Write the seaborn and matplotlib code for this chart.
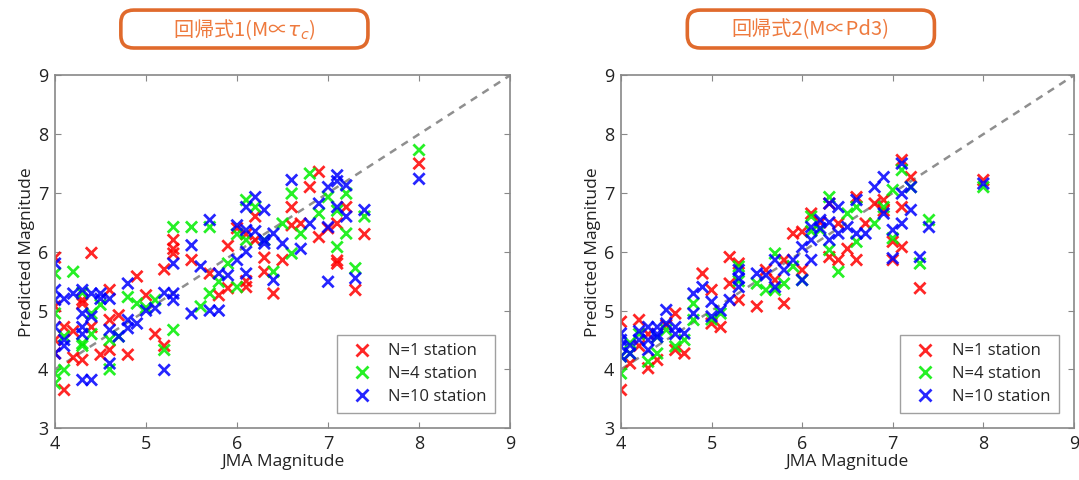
import matplotlib
matplotlib.use("Agg")
from matplotlib import pyplot as plt
from matplotlib.patches import FancyBboxPatch
import seaborn as sns
import pandas as pd

# ---- panel 1 : M ~ tau_c ----
r1_x = [4.0, 4.0, 4.0, 4.0, 4.1, 4.4, 4.3, 4.6, 4.9, 5.0, 5.2, 5.3, 5.3, 5.5, 5.9, 5.1, 5.2,
        4.2, 4.3, 4.5, 4.6, 4.8, 4.7, 4.6, 5.8, 5.9, 5.7, 6.1, 6.1, 6.2, 6.3, 6.3, 6.4, 6.5,
        6.6, 6.7, 6.8, 6.9, 6.9, 7.1, 7.1, 7.2, 7.3, 7.4, 8.0, 7.1, 4.1, 4.4, 6.0, 6.2,
        4.3, 4.2, 5.3, 6.6, 7.0, 6.1]
r1_y = [5.9, 5.07, 4.5, 4.27, 3.65, 5.98, 5.18, 5.35, 5.58, 5.26, 5.7, 6.2, 5.97, 5.86, 6.1, 4.6, 4.4,
        4.2, 4.16, 4.25, 4.33, 4.25, 4.92, 4.84, 5.26, 5.38, 5.63, 5.4, 6.3, 6.6, 5.9, 5.66, 5.29, 5.86,
        6.76, 6.48, 7.1, 7.36, 6.25, 5.85, 5.8, 6.76, 5.35, 6.3, 7.5, 6.48, 4.72, 4.72, 6.4, 6.2,
        5.12, 4.65, 6.05, 6.45, 6.4, 5.5]

g1_x = [4.0, 4.0, 4.0, 4.1, 4.2, 4.1, 4.3, 4.3, 4.4, 4.6, 4.8, 4.9, 5.1, 5.2, 5.3, 5.3, 5.5,
        5.7, 5.6, 5.7, 5.8, 5.9, 6.0, 6.1, 6.2, 6.4, 6.5, 6.6, 6.6, 6.8, 6.7, 6.9, 7.0, 7.1,
        7.2, 7.2, 7.3, 7.4, 8.0, 4.7, 4.6, 4.0, 4.5, 6.1, 6.3,
        4.3, 4.4, 5.0, 6.0, 7.1]
g1_y = [5.63, 3.93, 3.76, 3.99, 5.66, 4.56, 4.44, 4.4, 4.95, 4.0, 5.23, 5.12, 5.18, 4.33, 4.67, 6.42, 6.42,
        6.42, 5.07, 5.29, 5.49, 5.8, 5.4, 6.88, 6.76, 5.66, 6.48, 6.99, 5.97, 7.33, 6.31, 6.65, 6.93, 6.08,
        6.31, 6.99, 5.72, 6.6, 7.73, 4.56, 4.5, 4.95, 5.1, 6.2, 6.2,
        5.3, 4.6, 5.05, 6.3, 6.7]

b1_x = [4.0, 4.0, 4.0, 4.0, 4.0, 4.1, 4.2, 4.3, 4.4, 4.5, 4.6, 4.3, 4.3, 4.3, 4.4, 4.3, 4.4,
        4.6, 4.6, 4.7, 4.8, 4.8, 4.9, 5.0, 5.1, 5.2, 5.3, 5.3, 5.3, 5.5, 5.5, 5.6, 5.7, 5.7,
        5.8, 5.8, 6.0, 6.0, 6.1, 6.1, 6.1, 6.2, 6.3, 6.3, 6.4, 6.4, 6.5, 6.6, 6.7, 6.8, 6.9,
        7.0, 7.0, 7.1, 7.1, 7.0, 7.2, 7.2, 7.3, 7.4, 8.0, 6.3, 4.1,
        4.1, 4.5, 4.8, 5.2, 5.9, 6.1, 6.2, 7.1]
b1_y = [5.8, 5.35, 5.18, 4.72, 4.27, 4.4, 5.29, 5.35, 5.29, 5.29, 5.2, 4.95, 4.72, 4.6, 4.9, 3.82, 3.82,
        4.1, 4.67, 4.56, 5.46, 4.84, 4.78, 5.0, 5.04, 3.99, 5.8, 5.29, 5.18, 6.11, 4.95, 5.75, 6.54, 5.0,
        5.0, 5.63, 6.45, 5.86, 5.63, 6.76, 6.37, 6.93, 6.71, 6.14, 6.31, 5.52, 6.14, 7.22, 6.05, 6.48, 6.82,
        7.1, 6.42, 7.3, 6.76, 5.49, 7.13, 6.6, 5.55, 6.71, 7.24, 6.2, 4.5,
        5.2, 5.2, 4.7, 5.3, 5.6, 6.0, 6.35, 7.2]

# ---- panel 2 : M ~ Pd3 ----
r2_x = [4.0, 4.0, 4.1, 4.2, 4.3, 4.4, 4.6, 4.6, 4.7, 4.9, 5.0, 5.1, 5.0, 5.2, 5.2, 5.3, 5.3,
        5.5, 5.6, 5.7, 5.8, 5.8, 5.9, 6.0, 6.0, 6.1, 6.3, 6.3, 6.4, 6.4, 6.5, 6.6, 6.6, 6.7,
        6.8, 6.9, 7.0, 7.0, 7.1, 7.1, 7.1, 7.2, 7.3, 8.0, 4.2,
        4.3, 4.5, 6.2, 6.9]
r2_y = [4.81, 3.65, 4.1, 4.84, 4.02, 4.16, 4.95, 4.33, 4.27, 5.63, 5.35, 4.72, 4.78, 5.91, 5.46, 5.8, 5.18,
        5.07, 5.69, 5.52, 5.12, 5.86, 6.31, 6.34, 5.69, 6.65, 5.91, 6.82, 5.86, 6.48, 6.05, 6.93, 5.86, 6.48,
        6.82, 6.88, 5.86, 6.17, 7.56, 6.08, 6.76, 7.27, 5.38, 7.22, 4.4,
        4.6, 4.75, 6.5, 6.7]

g2_x = [4.0, 4.0, 4.1, 4.3, 4.4, 4.5, 4.6, 4.7, 4.8, 4.8, 5.1, 5.3, 5.5, 5.6, 5.7, 5.7, 5.8,
        5.9, 6.0, 6.1, 6.2, 6.3, 6.3, 6.4, 6.5, 6.6, 6.6, 6.8, 6.9, 7.0, 7.1, 7.2, 7.3, 7.4,
        8.0, 7.0, 4.2, 5.0,
        4.1, 4.4, 5.3, 6.1]
g2_y = [3.93, 4.22, 4.27, 4.13, 4.27, 4.67, 4.39, 4.5, 4.84, 5.12, 4.95, 5.75, 5.46, 5.35, 5.97, 5.35, 5.46,
        5.75, 5.52, 6.6, 6.37, 6.93, 6.03, 5.66, 6.65, 6.76, 6.17, 6.48, 6.76, 6.23, 7.39, 7.1, 5.8, 6.54,
        7.1, 7.05, 4.6, 4.85,
        4.45, 4.55, 5.5, 6.35]

b2_x = [4.0, 4.0, 4.0, 4.1, 4.1, 4.2, 4.3, 4.3, 4.3, 4.4, 4.5, 4.5, 4.6, 4.7, 4.8, 4.8, 4.9,
        5.0, 5.0, 5.1, 5.2, 5.3, 5.3, 5.5, 5.6, 5.7, 5.7, 5.8, 5.9, 6.0, 6.0, 6.1, 6.1, 6.2,
        6.3, 6.3, 6.4, 6.4, 6.5, 6.6, 6.6, 6.7, 6.8, 6.9, 6.9, 7.0, 7.0, 7.1, 7.1, 7.1, 7.2,
        7.2, 7.3, 7.4, 8.0, 4.4, 6.1,
        4.0, 4.2, 4.4, 4.6, 5.3, 6.2, 6.3]
b2_y = [4.61, 4.39, 4.22, 4.41, 4.27, 4.5, 4.72, 4.5, 4.33, 4.72, 5.01, 4.78, 4.72, 4.61, 5.29, 4.95, 5.4,
        5.15, 4.9, 5.0, 5.18, 5.69, 5.4, 5.63, 5.6, 5.86, 5.4, 5.69, 5.86, 6.08, 5.52, 6.42, 5.86, 6.54,
        6.82, 6.2, 6.76, 6.31, 6.42, 6.88, 6.31, 6.31, 7.1, 7.27, 6.65, 6.37, 5.89, 7.5, 6.99, 6.48, 7.1,
        6.71, 5.91, 6.42, 7.16, 4.6, 6.2,
        4.5, 4.65, 4.55, 4.6, 5.55, 6.4, 6.5]

labels = ["N=1 station", "N=4 station", "N=10 station"]
colors = ["#ff0000", "#00ee00", "#0000ff"]
titles = ["回帰式1(M∝$\\tau_c$)", "回帰式2(M∝Pd3)"]

panels = [[(r1_x, r1_y), (g1_x, g1_y), (b1_x, b1_y)],
          [(r2_x, r2_y), (g2_x, g2_y), (b2_x, b2_y)]]

sns.set_style("white")
plt.rcParams['font.family'] = ['Open Sans', 'DejaVu Sans']

fig = plt.figure(figsize=(10.79, 4.8), dpi=100)
axes = [fig.add_axes([0.051, 0.108, 0.4217, 0.735]),
        fig.add_axes([0.5755, 0.108, 0.4198, 0.735])]

for ax, series, ttl, bx in zip(axes, panels, titles, [0.112, 0.637]):
    rows = []
    for lab, (xs, ys) in zip(labels, series):
        for a, b in zip(xs, ys):
            rows.append({"JMA": a, "Pred": b, "set": lab})
    df = pd.DataFrame(rows)
    ax.plot([4, 9], [4, 9], ls=(0, (3, 2.5)), color="#8f8f8f", lw=1.8, zorder=1)
    sns.scatterplot(data=df, x="JMA", y="Pred", hue="set", hue_order=labels,
                    palette=colors, marker="x", s=65, linewidth=2.0, alpha=0.85,
                    ax=ax, zorder=2)
    ax.set_xlim(4, 9)
    ax.set_ylim(3, 9)
    ax.set_xticks(range(4, 10))
    ax.set_yticks(range(3, 10))
    ax.tick_params(direction="in", length=4, labelsize=13, color="#888888", pad=5,
                   labelcolor="#222222", top=True, right=True, bottom=True, left=True)
    for s in ax.spines.values():
        s.set_color("#888888")
        s.set_linewidth(1.2)
    ax.set_xlabel("JMA Magnitude", fontsize=12.5, labelpad=1, color="#222222")
    ax.set_ylabel("Predicted Magnitude", fontsize=12.5, labelpad=2, color="#222222")
    leg = ax.legend(loc="lower right", fontsize=12, frameon=True, fancybox=False,
                    edgecolor="#888888", borderaxespad=0.9, handletextpad=0.6,
                    borderpad=0.5, labelspacing=0.4)
    leg.get_frame().set_linewidth(1.0)

    # orange rounded title box
    box = FancyBboxPatch((bx, 0.9), 0.229, 0.079, boxstyle="round,pad=0,rounding_size=0.012",
                         transform=fig.transFigure, fill=False, edgecolor="#e06a2c",
                         linewidth=2.6, mutation_aspect=2.2)
    fig.patches.append(box)
    fig.text(bx + 0.1145, 0.938, ttl, ha="center", va="center", fontsize=14.5,
             color="#ee7a3e", family=["Noto Sans CJK JP", "DejaVu Sans"])

fig.savefig("out.png", dpi=100)
